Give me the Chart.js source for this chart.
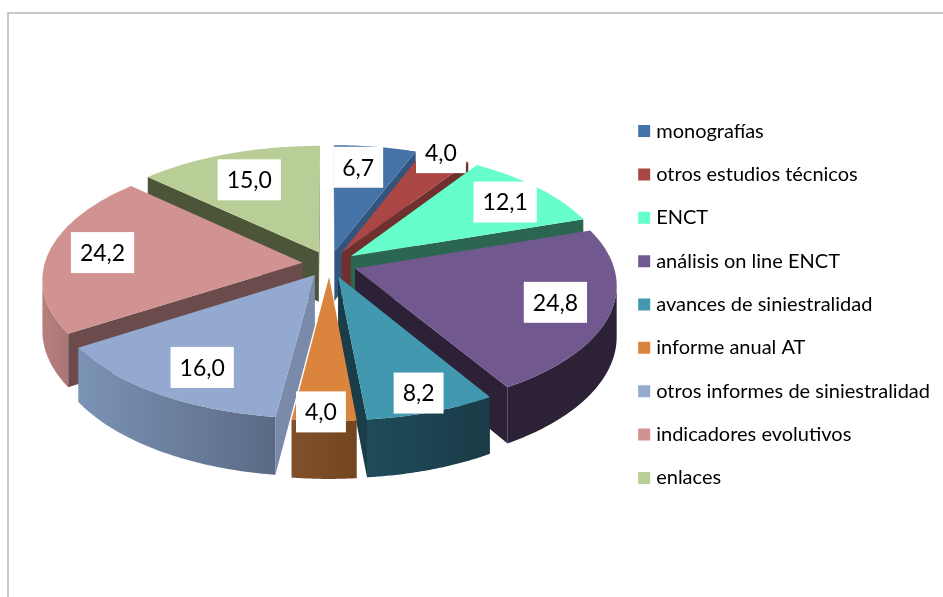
<!DOCTYPE html>
<html>
<head>
<meta charset="utf-8">
<script src="https://cdn.jsdelivr.net/npm/chart.js@4/dist/chart.umd.min.js"></script>
<style>
html, body { margin: 0; padding: 0; background: #fff; overflow: hidden; }
#frame { position: absolute; left: 7px; top: 12px; width: 943px; height: 597px; border-left: 2px solid #c9c9c9; border-top: 2px solid #c9c9c9; }
#myChart { position: absolute; left: 0; top: 0; }
</style>
</head>
<body>
<div id="frame"></div>
<canvas id="myChart" width="943" height="597"></canvas>
<script>
const categories = ['monografías', 'otros estudios técnicos', 'ENCT', 'análisis on line ENCT', 'avances de siniestralidad', 'informe anual AT', 'otros informes de siniestralidad', 'indicadores evolutivos', 'enlaces'];
const values = [6.7, 4.0, 12.1, 24.8, 8.2, 4.0, 16.0, 24.2, 15.0];

const topColors = ['#4572a7', '#aa4643', '#66ffcc', '#71588f', '#4198af', '#db843d', '#93a9cf', '#d19392', '#b9cd96'];
const sideColors = ['#33557d', '#70302e', '#2a6650', '#2d2138', '#1b3d4a', '#7b4a22', '#7a8aab', '#6b4b4b', '#4d5539'];
const rimLeft = ['#33557d', '#70302e', '#2a6650', '#2d2138', '#1f4c5a', '#80502a', '#7b93b5', '#b57f7e', '#4d5539'];
const rimRight = ['#33557d', '#70302e', '#2a6650', '#2d2138', '#1a3a47', '#734620', '#5a6a85', '#ab7776', '#4d5539'];

// where each value label sits on its slice: share of the radius, and turn in degrees
const labelRadius = [0.78, 1.03, 0.80, 0.79, 0.875, 0.945, 0.78, 0.79, 0.72];
const labelTurn = [-2.8, -2, 1.1, -0.6, 0, 0.7, -2.2, 1, -1];

// the tilted 3D view
const view = { cx: 329.5, cy: 264, rx: 258, ry: 122.5, persp: 0.1245, depth: 50, explode: 0.105 };

function project(u, v, down) {
    const w = 1 / (1 + view.persp * v);
    return {
        x: view.cx + view.rx * u * w,
        y: view.cy - view.ry * v * w + (down ? view.depth * w : 0)
    };
}

function fillPoly(c, pts, fill) {
    c.beginPath();
    pts.forEach((p, i) => i ? c.lineTo(p.x, p.y) : c.moveTo(p.x, p.y));
    c.closePath();
    c.fillStyle = fill;
    c.fill();
}

function area(pts) {
    let s = 0;
    pts.forEach((p, i) => {
        const q = pts[(i + 1) % pts.length];
        s += p.x * q.y - q.x * p.y;
    });
    return s;
}

function sliceGeometry(arc) {
    const start = arc.startAngle + Math.PI / 2;
    const end = arc.endAngle + Math.PI / 2;
    const mid = (start + end) / 2;
    return { start, end, mid, ou: view.explode * Math.sin(mid), ov: view.explode * Math.cos(mid) };
}

function drawSlice(c, arc, i) {
    const g = sliceGeometry(arc);
    const steps = 60;
    const top = [], bottom = [];
    for (let s = 0; s <= steps; s++) {
        const a = g.start + (g.end - g.start) * s / steps;
        const u = g.ou + Math.sin(a), v = g.ov + Math.cos(a);
        top.push(project(u, v, false));
        bottom.push(project(u, v, true));
    }
    const apexTop = project(g.ou, g.ov, false);
    const apexBottom = project(g.ou, g.ov, true);

    // flat walls, only those facing the viewer
    const wallA = [apexTop, top[0], bottom[0], apexBottom];
    const wallB = [top[steps], apexTop, apexBottom, bottom[steps]];
    [wallA, wallB].forEach(w => {
        if (area(w) < 0) fillPoly(c, w, sideColors[i]);
    });

    // outer wall
    const seenTop = [], seenBottom = [];
    for (let s = 0; s < steps; s++) {
        const quad = [top[s], top[s + 1], bottom[s + 1], bottom[s]];
        if (area(quad) < 0) {
            if (!seenTop.length) { seenTop.push(top[s]); seenBottom.push(bottom[s]); }
            seenTop.push(top[s + 1]);
            seenBottom.push(bottom[s + 1]);
        }
    }
    if (seenTop.length) {
        const xs = seenTop.map(p => p.x);
        const grad = c.createLinearGradient(Math.min(...xs), 0, Math.max(...xs), 0);
        grad.addColorStop(0, rimLeft[i]);
        grad.addColorStop(1, rimRight[i]);
        fillPoly(c, seenTop.concat(seenBottom.reverse()), grad);
    }

    fillPoly(c, [apexTop].concat(top), topColors[i]);
}

const pie3d = {
    id: 'pie3d',
    beforeDatasetDraw(chart, args) {
        const c = chart.ctx;
        const arcs = chart.getDatasetMeta(args.index).data;
        const order = arcs.map((a, i) => i).sort((p, q) => Math.cos(sliceGeometry(arcs[q]).mid) - Math.cos(sliceGeometry(arcs[p]).mid));
        c.save();
        order.forEach(i => drawSlice(c, arcs[i], i));

        // value labels on white boxes
        c.font = '23px Lato';
        c.textAlign = 'center';
        c.textBaseline = 'middle';
        arcs.forEach((arc, i) => {
            const g = sliceGeometry(arc);
            const a = g.mid + labelTurn[i] * Math.PI / 180;
            const p = project(g.ou + labelRadius[i] * Math.sin(a), g.ov + labelRadius[i] * Math.cos(a), false);
            const text = values[i].toFixed(1).replace('.', ',');
            const boxW = c.measureText(text).width + 18;
            c.fillStyle = '#fff';
            c.fillRect(p.x - boxW / 2, p.y - 20.5, boxW, 41);
            c.fillStyle = '#000';
            c.fillText(text, p.x, p.y + 1);
        });
        c.restore();
        return false;
    }
};

const ctx = document.getElementById('myChart');

const chart = new Chart(ctx, {
    type: 'pie',
    data: {
        labels: categories,
        datasets: [{ data: values, backgroundColor: topColors, borderWidth: 0 }]
    },
    options: {
        responsive: false,
        animation: false,
        layout: { padding: { top: 12, bottom: 0, right: 3 } },
        plugins: {
            tooltip: { enabled: false },
            legend: {
                position: 'right',
                labels: {
                    color: '#000',
                    font: { family: 'Lato', size: 20 },
                    boxWidth: 4,
                    boxHeight: 4,
                    padding: 23.35,
                    generateLabels: c => Chart.overrides.pie.plugins.legend.labels.generateLabels(c).map(item => ({
                        ...item,
                        lineWidth: 8,
                        strokeStyle: item.fillStyle
                    }))
                }
            }
        }
    },
    plugins: [pie3d]
});
</script>
</body>
</html>
